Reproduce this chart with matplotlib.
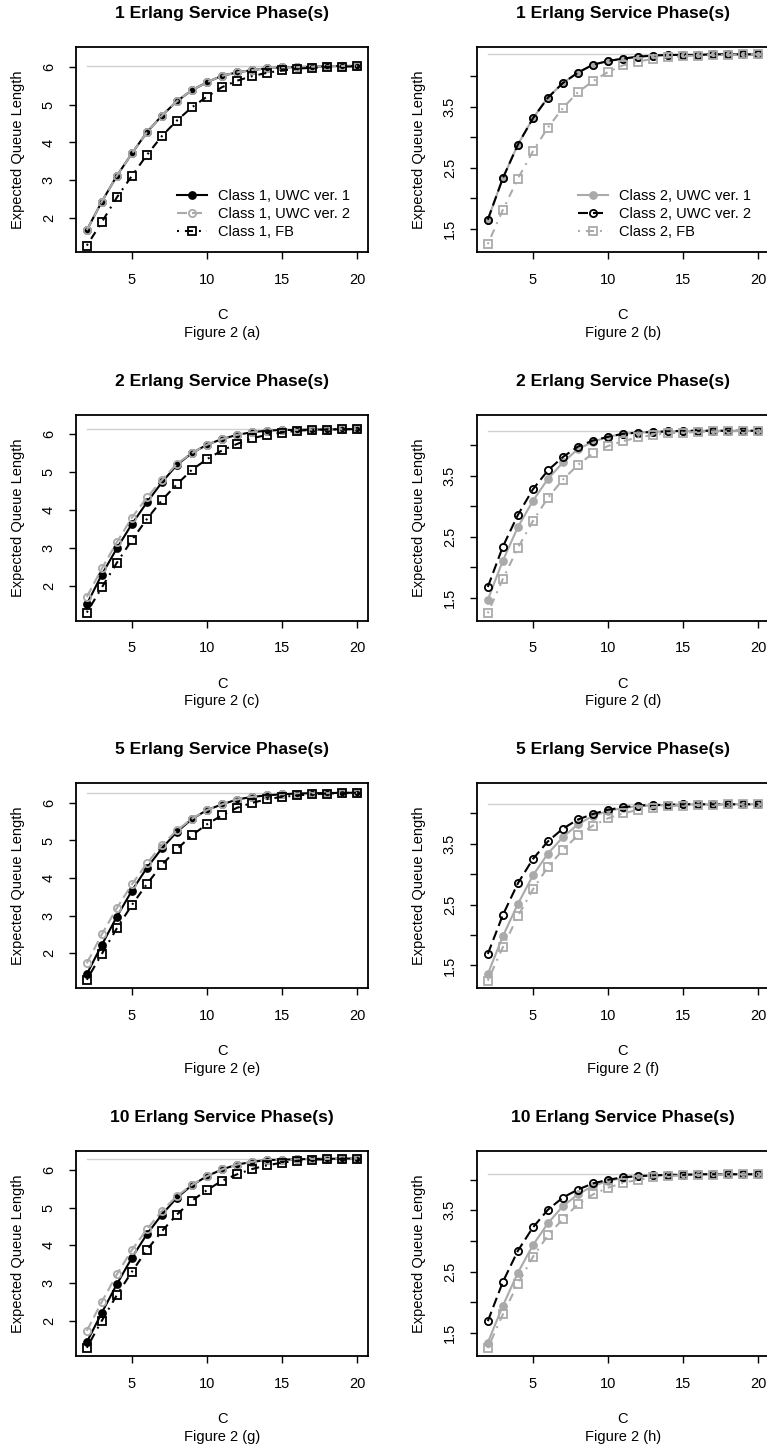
import matplotlib
matplotlib.use("Agg")
import matplotlib.pyplot as plt
from matplotlib.lines import Line2D

plt.rcParams['font.family'] = ['Liberation Sans', 'DejaVu Sans']
plt.rcParams['lines.scale_dashes'] = False

# ---------------- data ----------------
C = list(range(2, 21))
phases = [1, 2, 5, 10]
fig_labels = ["a", "b", "c", "d", "e", "f", "g", "h"]

# Class 1 (left column)
c1_p1_uwc1 = [1.69, 2.44, 3.12, 3.71, 4.27, 4.71, 5.09, 5.38, 5.59, 5.76, 5.85, 5.91, 5.96, 5.98, 5.99, 6.00, 6.01, 6.02, 6.02]
c1_p1_uwc2 = [1.69, 2.44, 3.12, 3.71, 4.27, 4.71, 5.09, 5.38, 5.59, 5.76, 5.85, 5.91, 5.96, 5.98, 5.99, 6.00, 6.01, 6.02, 6.02]
c1_p1_fb   = [1.28, 1.90, 2.55, 3.12, 3.67, 4.17, 4.58, 4.93, 5.21, 5.46, 5.63, 5.75, 5.84, 5.90, 5.95, 5.97, 5.99, 6.00, 6.01]
c1_p1_lim = 6.02

c1_p2_uwc1 = [1.52, 2.30, 2.99, 3.63, 4.20, 4.73, 5.19, 5.50, 5.72, 5.87, 5.98, 6.05, 6.09, 6.11, 6.11, 6.12, 6.12, 6.13, 6.13]
c1_p2_uwc2 = [1.71, 2.46, 3.15, 3.80, 4.33, 4.79, 5.22, 5.50, 5.72, 5.87, 5.98, 6.05, 6.09, 6.11, 6.11, 6.12, 6.12, 6.13, 6.13]
c1_p2_fb   = [1.30, 1.96, 2.61, 3.21, 3.76, 4.26, 4.68, 5.06, 5.34, 5.57, 5.74, 5.89, 5.98, 6.04, 6.09, 6.11, 6.12, 6.13, 6.13]
c1_p2_lim = 6.13

c1_p5_uwc1 = [1.44, 2.22, 2.97, 3.66, 4.27, 4.79, 5.23, 5.57, 5.81, 5.96, 6.09, 6.16, 6.20, 6.23, 6.25, 6.26, 6.26, 6.27, 6.27]
c1_p5_uwc2 = [1.73, 2.50, 3.20, 3.83, 4.39, 4.88, 5.27, 5.58, 5.81, 5.96, 6.09, 6.16, 6.20, 6.23, 6.25, 6.26, 6.26, 6.27, 6.27]
c1_p5_fb   = [1.29, 1.98, 2.66, 3.28, 3.84, 4.35, 4.77, 5.14, 5.43, 5.67, 5.87, 6.00, 6.10, 6.16, 6.20, 6.23, 6.25, 6.26, 6.27]
c1_p5_lim = 6.27

c1_p10_uwc1 = [1.43, 2.21, 2.97, 3.67, 4.30, 4.82, 5.27, 5.60, 5.84, 6.02, 6.15, 6.22, 6.27, 6.28, 6.29, 6.30, 6.30, 6.31, 6.31]
c1_p10_uwc2 = [1.73, 2.50, 3.23, 3.88, 4.43, 4.92, 5.31, 5.61, 5.84, 6.02, 6.15, 6.22, 6.27, 6.28, 6.29, 6.30, 6.30, 6.31, 6.31]
c1_p10_fb   = [1.28, 2.00, 2.68, 3.30, 3.88, 4.38, 4.82, 5.19, 5.47, 5.72, 5.89, 6.03, 6.13, 6.20, 6.25, 6.28, 6.29, 6.30, 6.31]
c1_p10_lim = 6.31

# Class 2 (right column)
c2_p1_uwc1 = [1.65, 2.33, 2.88, 3.31, 3.65, 3.89, 4.06, 4.19, 4.25, 4.29, 4.32, 4.34, 4.35, 4.35, 4.35, 4.36, 4.36, 4.36, 4.36]
c2_p1_uwc2 = [1.65, 2.33, 2.88, 3.31, 3.65, 3.89, 4.06, 4.19, 4.25, 4.29, 4.32, 4.34, 4.35, 4.35, 4.35, 4.36, 4.36, 4.36, 4.36]
c2_p1_fb   = [1.25, 1.81, 2.32, 2.77, 3.16, 3.48, 3.74, 3.92, 4.07, 4.18, 4.24, 4.29, 4.31, 4.33, 4.34, 4.35, 4.35, 4.36, 4.36]
c2_p1_lim = 4.36

c2_p2_uwc1 = [1.47, 2.11, 2.66, 3.09, 3.45, 3.72, 3.94, 4.06, 4.14, 4.19, 4.21, 4.22, 4.23, 4.23, 4.24, 4.24, 4.24, 4.24, 4.24]
c2_p2_uwc2 = [1.68, 2.34, 2.86, 3.28, 3.59, 3.81, 3.98, 4.08, 4.14, 4.19, 4.21, 4.22, 4.23, 4.24, 4.24, 4.24, 4.24, 4.24, 4.24]
c2_p2_fb   = [1.25, 1.81, 2.32, 2.76, 3.14, 3.44, 3.68, 3.87, 3.99, 4.07, 4.13, 4.17, 4.20, 4.21, 4.22, 4.23, 4.23, 4.24, 4.24]
c2_p2_lim = 4.24

c2_p5_uwc1 = [1.36, 1.98, 2.51, 2.98, 3.34, 3.61, 3.82, 3.96, 4.04, 4.09, 4.12, 4.13, 4.14, 4.15, 4.15, 4.15, 4.15, 4.15, 4.15]
c2_p5_uwc2 = [1.69, 2.33, 2.85, 3.25, 3.54, 3.75, 3.90, 3.99, 4.06, 4.10, 4.13, 4.14, 4.14, 4.15, 4.15, 4.15, 4.15, 4.15, 4.15]
c2_p5_fb   = [1.25, 1.80, 2.31, 2.75, 3.12, 3.40, 3.64, 3.80, 3.92, 4.00, 4.06, 4.09, 4.12, 4.13, 4.14, 4.14, 4.15, 4.15, 4.15]
c2_p5_lim = 4.15

c2_p10_uwc1 = [1.34, 1.94, 2.48, 2.93, 3.29, 3.57, 3.76, 3.90, 3.98, 4.03, 4.06, 4.07, 4.08, 4.08, 4.09, 4.09, 4.09, 4.09, 4.09]
c2_p10_uwc2 = [1.69, 2.33, 2.84, 3.22, 3.51, 3.71, 3.84, 3.94, 4.00, 4.04, 4.06, 4.07, 4.08, 4.08, 4.09, 4.09, 4.09, 4.09, 4.09]
c2_p10_fb   = [1.25, 1.80, 2.30, 2.74, 3.09, 3.36, 3.60, 3.76, 3.87, 3.95, 4.00, 4.04, 4.06, 4.07, 4.08, 4.08, 4.09, 4.09, 4.09]
c2_p10_lim = 4.09

left_series = [
    (c1_p1_uwc1, c1_p1_uwc2, c1_p1_fb, c1_p1_lim),
    (c1_p2_uwc1, c1_p2_uwc2, c1_p2_fb, c1_p2_lim),
    (c1_p5_uwc1, c1_p5_uwc2, c1_p5_fb, c1_p5_lim),
    (c1_p10_uwc1, c1_p10_uwc2, c1_p10_fb, c1_p10_lim),
]
right_series = [
    (c2_p1_uwc1, c2_p1_uwc2, c2_p1_fb, c2_p1_lim),
    (c2_p2_uwc1, c2_p2_uwc2, c2_p2_fb, c2_p2_lim),
    (c2_p5_uwc1, c2_p5_uwc2, c2_p5_fb, c2_p5_lim),
    (c2_p10_uwc1, c2_p10_uwc2, c2_p10_fb, c2_p10_lim),
]
left_ylims = [(1.11, 6.52), (1.09, 6.49), (1.07, 6.53), (1.06, 6.51)]
right_ylims = [(1.12, 4.48), (1.13, 4.49), (1.13, 4.50), (1.12, 4.47)]

legend_c1 = ["Class 1, UWC ver. 1", "Class 1, UWC ver. 2", "Class 1, FB"]
legend_c2 = ["Class 2, UWC ver. 1", "Class 2, UWC ver. 2", "Class 2, FB"]

# ---------------- styling ----------------
W, H = 767, 1450
DPI = 100
BLACK = "#000000"
GRAY = "#aaaaaa"
LIMGRAY = "#d0d0d0"
FS = 10.5
DASHED = (0, (7.2, 3.6))
DOTDASH = (0, (1.4, 4.3, 5.8, 4.3))
LW = 1.5
MEW = 1.3
MS_FILL = 5.0
MS_OPEN = 5.2
MS_SQ = 5.6

fig = plt.figure(figsize=(W / DPI, H / DPI), dpi=DPI)

row_tops = [47, 415.5, 783, 1151]
box_h = 205
col_lefts = [76, 477]
box_w = 292


def make_axes(col, row):
    left = col_lefts[col] / W
    bottom = 1 - (row_tops[row] + box_h) / H
    return fig.add_axes([left, bottom, box_w / W, box_h / H])


def style(ax, ylim, yticks, ylabels):
    ax.set_xlim(1.28, 20.72)
    ax.set_ylim(*ylim)
    ax.set_xticks([5, 10, 15, 20])
    ax.set_yticks(yticks)
    ax.set_yticklabels(ylabels)
    ax.tick_params(axis='both', direction='out', length=5, width=1.0,
                   labelsize=FS, colors=BLACK)
    ax.tick_params(axis='x', pad=10)
    ax.tick_params(axis='y', pad=9.5, labelrotation=90)
    for lab in ax.get_yticklabels():
        lab.set_va('center')
    for s in ax.spines.values():
        s.set_linewidth(1.3)


def deco(ax, title, sub):
    ax.set_title(title, fontsize=12.6, fontweight='bold', pad=21)
    ax.annotate("C", xy=(0.5, 0), xycoords='axes fraction', xytext=(0, -63),
                textcoords='offset pixels', ha='center', va='center', fontsize=FS)
    ax.annotate(sub, xy=(0.5, 0), xycoords='axes fraction', xytext=(0, -81),
                textcoords='offset pixels', ha='center', va='center', fontsize=FS)
    ax.set_ylabel("Expected Queue Length", fontsize=FS, labelpad=12)


def lkw(color, ls, marker, filled):
    ms = MS_SQ if marker == 's' else (MS_FILL if filled else MS_OPEN)
    return dict(color=color, lw=LW, ls=ls, marker=marker, ms=ms,
                mfc=color if filled else 'none', mec=color, mew=MEW)


for r in range(4):
    # ----- left: class 1 -----
    ax = make_axes(0, r)
    u1, u2, fb, lim = left_series[r]
    kws = [lkw(BLACK, '-', 'o', True), lkw(GRAY, DASHED, 'o', False), lkw(BLACK, DOTDASH, 's', False)]
    ax.plot([C[0], C[-1]], [lim, lim], color=LIMGRAY, lw=1.0, zorder=1)
    ax.plot(C, u1, zorder=2, **kws[0])
    ax.plot(C, u2, zorder=3, **kws[1])
    ax.plot(C, fb, zorder=4, **kws[2])
    style(ax, left_ylims[r], [2, 3, 4, 5, 6], ["2", "3", "4", "5", "6"])
    deco(ax, f"{phases[r]} Erlang Service Phase(s)", f"Figure 2 ({fig_labels[2 * r]})")
    if r == 0:
        handles = [Line2D([], [], **k) for k in kws]
        ax.legend(handles, legend_c1, loc='upper left', bbox_to_anchor=(0.345, 0.306),
                  frameon=False, fontsize=FS, handlelength=2.1, handletextpad=0.7,
                  labelspacing=0.28, borderpad=0, borderaxespad=0)

    # ----- right: class 2 -----
    ax = make_axes(1, r)
    u1, u2, fb, lim = right_series[r]
    kws = [lkw(GRAY, '-', 'o', True), lkw(BLACK, DASHED, 'o', False), lkw(GRAY, DOTDASH, 's', False)]
    ax.plot([C[0], C[-1]], [lim, lim], color=LIMGRAY, lw=1.0, zorder=1)
    ax.plot(C, u1, zorder=2, **kws[0])
    ax.plot(C, u2, zorder=3, **kws[1])
    ax.plot(C, fb, zorder=4, **kws[2])
    style(ax, right_ylims[r], [1.5, 2.0, 2.5, 3.0, 3.5, 4.0],
          ["1.5", "", "2.5", "", "3.5", ""])
    deco(ax, f"{phases[r]} Erlang Service Phase(s)", f"Figure 2 ({fig_labels[2 * r + 1]})")
    if r == 0:
        handles = [Line2D([], [], **k) for k in kws]
        ax.legend(handles, legend_c2, loc='upper left', bbox_to_anchor=(0.345, 0.306),
                  frameon=False, fontsize=FS, handlelength=2.1, handletextpad=0.7,
                  labelspacing=0.28, borderpad=0, borderaxespad=0)

fig.savefig("out.png", dpi=DPI)
